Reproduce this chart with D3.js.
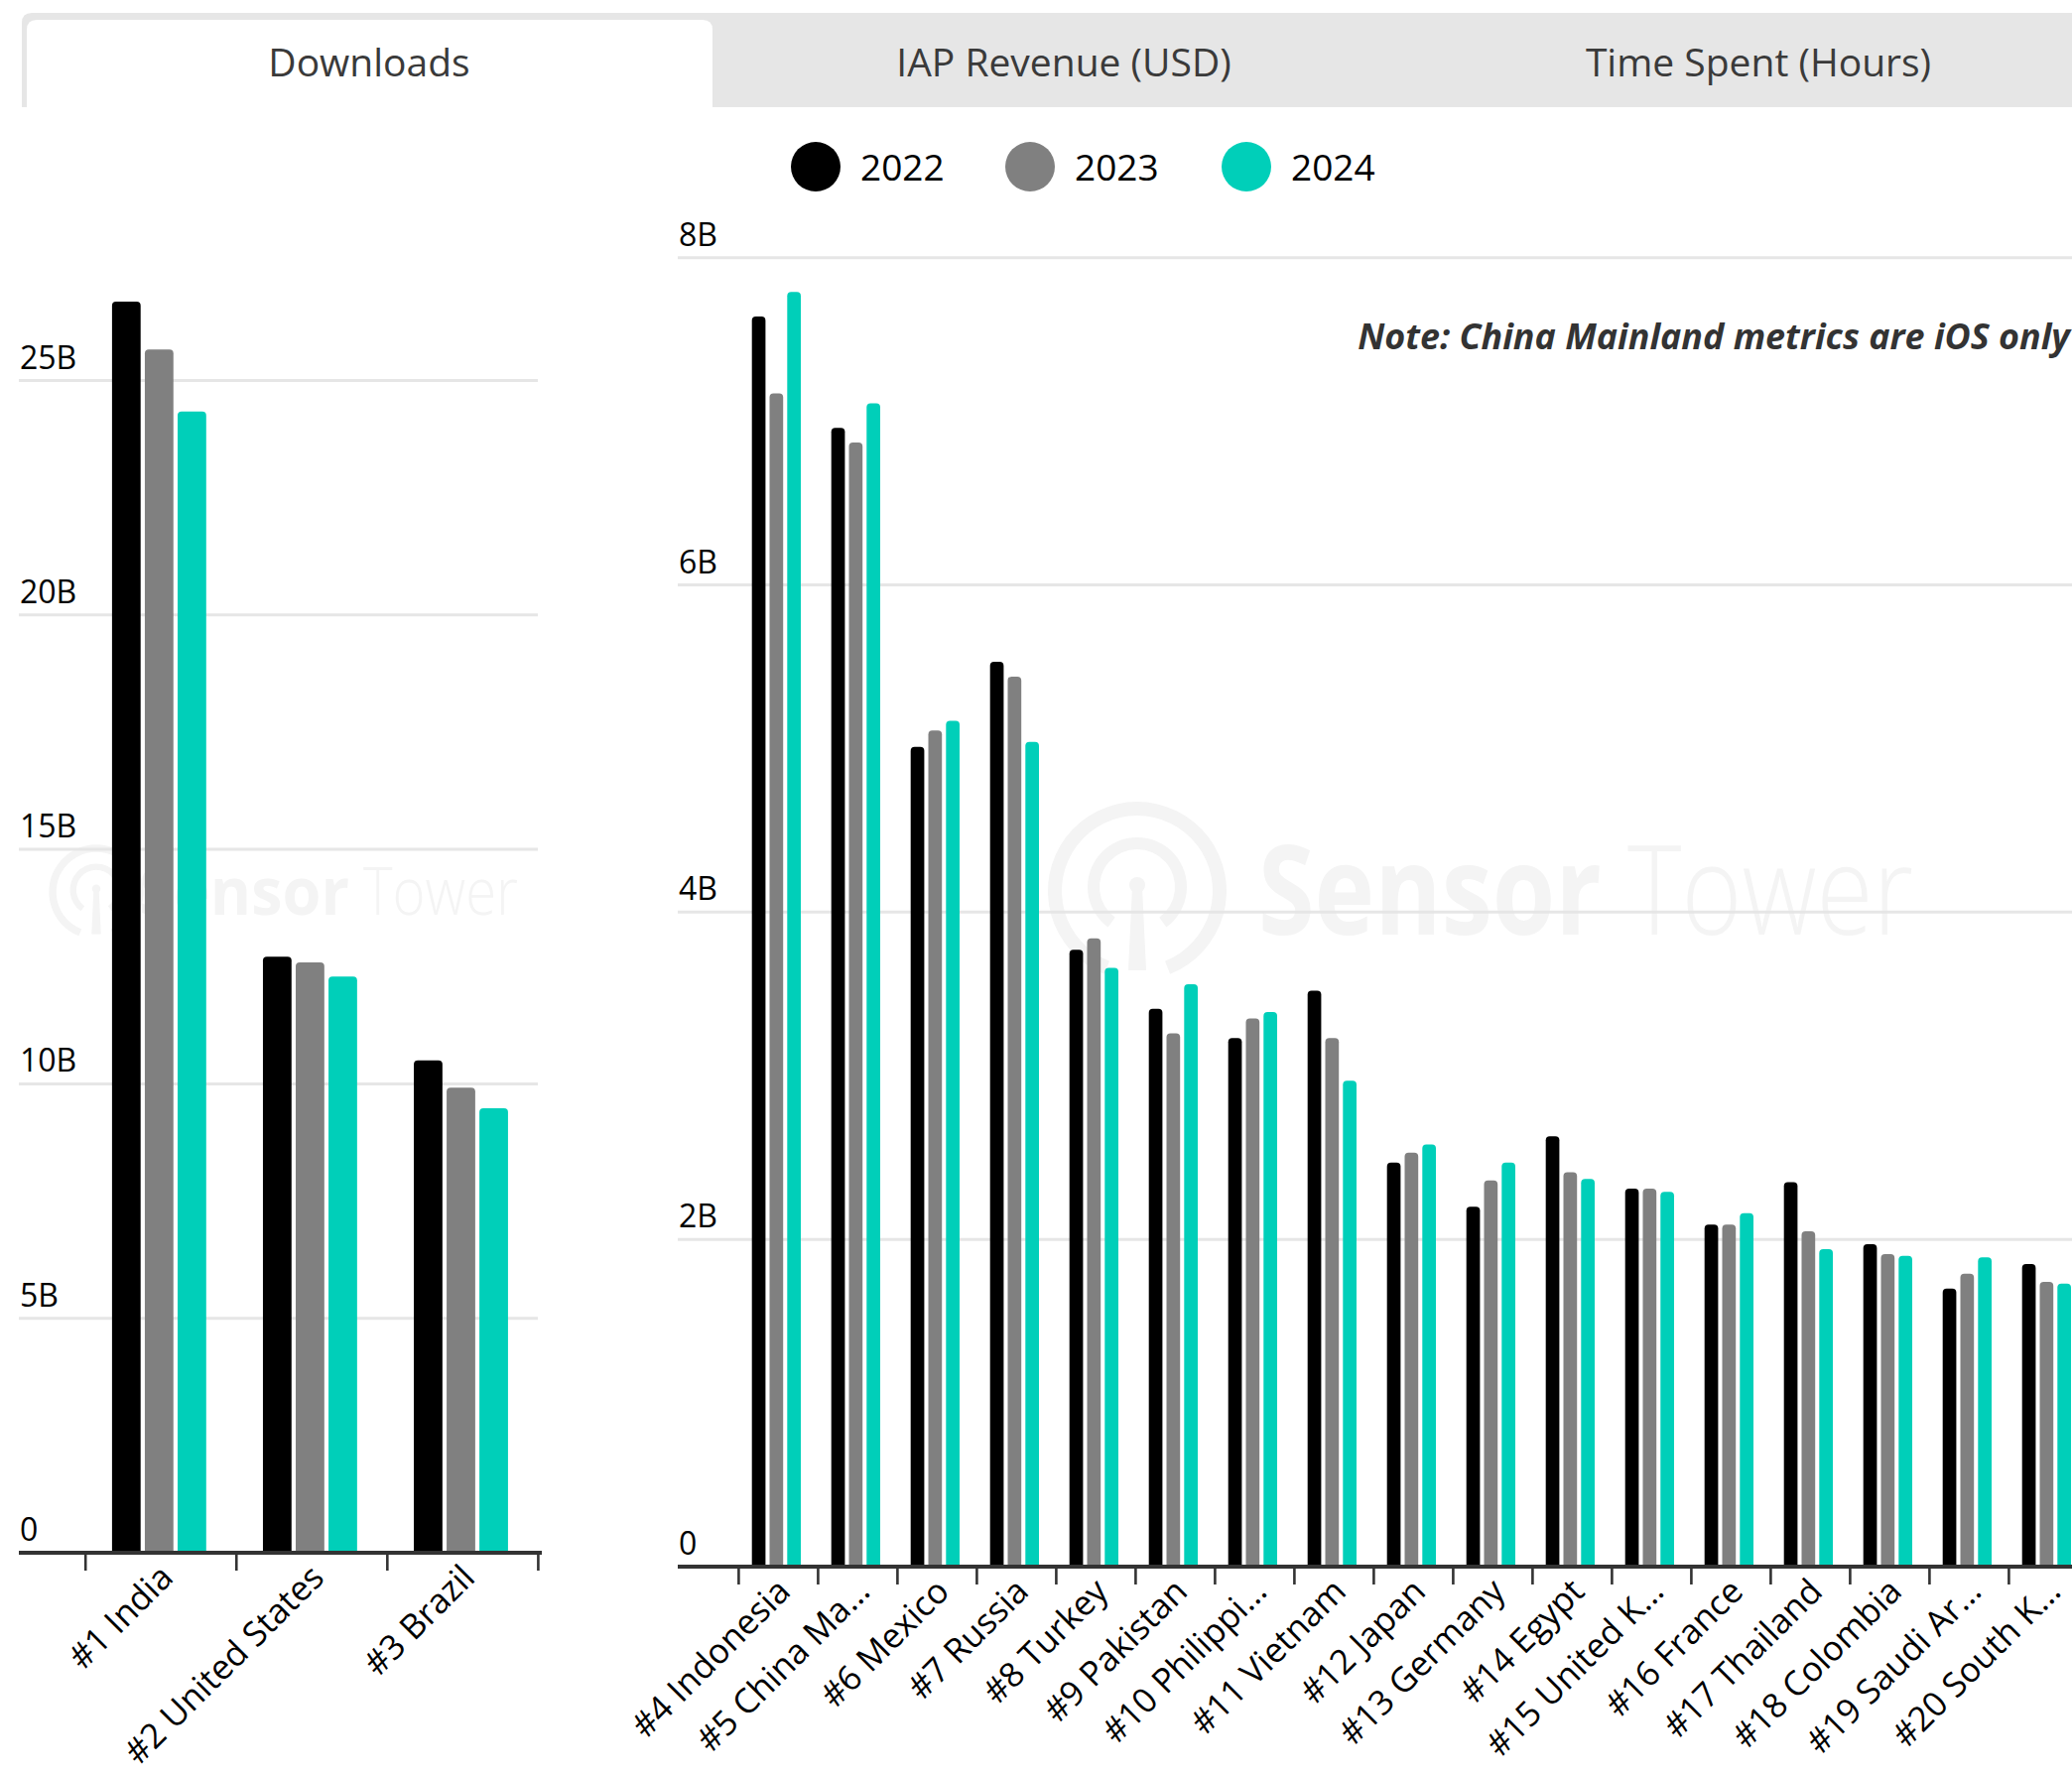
<!DOCTYPE html>
<html>
<head>
<meta charset="utf-8">
<script src="https://cdn.jsdelivr.net/npm/d3@7"></script>
<style>
  html, body { margin: 0; padding: 0; background: #ffffff; }
  svg { display: block; }
  text { font-family: "Open Sans", "Noto Sans", sans-serif; }
</style>
</head>
<body>
<svg id="chart" width="2088" height="1788"></svg>
<script>
// ---------------- DATA ----------------
const tabs = ["Downloads", "IAP Revenue (USD)", "Time Spent (Hours)"];
const years = ["2022", "2023", "2024"];
const seriesColors = ["#000000", "#808080", "#00cfb9"];

const topCategories = ["#1 India", "#2 United States", "#3 Brazil"];
const top2022 = [26.68, 12.71, 10.50];
const top2023 = [25.66, 12.59, 9.92];
const top2024 = [24.34, 12.29, 9.48];
const topTicks = [0, 5, 10, 15, 20, 25];

const restCategories = ["#4 Indonesia", "#5 China Ma…", "#6 Mexico", "#7 Russia", "#8 Turkey",
  "#9 Pakistan", "#10 Philippi…", "#11 Vietnam", "#12 Japan", "#13 Germany", "#14 Egypt",
  "#15 United K…", "#16 France", "#17 Thailand", "#18 Colombia", "#19 Saudi Ar…", "#20 South K…"];
const rest2022 = [7.64, 6.96, 5.01, 5.53, 3.77, 3.41, 3.23, 3.52, 2.47, 2.20, 2.63, 2.31, 2.09, 2.35, 1.97, 1.70, 1.85];
const rest2023 = [7.17, 6.87, 5.11, 5.44, 3.84, 3.26, 3.35, 3.23, 2.53, 2.36, 2.41, 2.31, 2.09, 2.05, 1.91, 1.79, 1.74];
const rest2024 = [7.79, 7.11, 5.17, 5.04, 3.66, 3.56, 3.39, 2.97, 2.58, 2.47, 2.37, 2.29, 2.16, 1.94, 1.90, 1.89, 1.73];
const restTicks = [0, 2, 4, 6, 8];

const noteText = "Note: China Mainland metrics are iOS only";
const watermarkWords = ["Sensor", "Tower"];

// ---------------- DRAW ----------------
const svg = d3.select("#chart");

// Tabs
svg.append("path")
  .attr("d", "M22,108 V23 Q22,13 32,13 H2140 V108 Z")
  .attr("fill", "#e6e6e6");
svg.append("path")
  .attr("d", "M27,112 V30 Q27,20 37,20 H708 Q718,20 718,30 V112 Z")
  .attr("fill", "#ffffff");
const tabScale = d3.scaleBand().domain(tabs).range([22, 2122]);
svg.selectAll("text.tab").data(tabs).join("text")
  .attr("class", "tab")
  .attr("x", d => tabScale(d) + tabScale.bandwidth() / 2)
  .attr("y", 77)
  .attr("text-anchor", "middle")
  .attr("font-size", 39)
  .attr("fill", "#3a3a3a")
  .text(d => d);

// Watermarks
function fitWord(g, word, weight, size, x, y, w, col) {
  const t = g.append("text").attr("x", 0).attr("y", 0)
    .attr("font-size", size).attr("font-weight", weight).attr("fill", col).text(word);
  const len = t.node().getComputedTextLength();
  t.attr("transform", `translate(${x},${y}) scale(${w / len},1)`);
}
function watermark(g, cx, cy, s, x1, w1, x2, w2, baseY) {
  const col = "#f4f4f4";
  const arcOuter = d3.arc().innerRadius(76 * s).outerRadius(90 * s)
    .startAngle(Math.PI * 1.12).endAngle(Math.PI * 2.88);
  const arcInner = d3.arc().innerRadius(38 * s).outerRadius(50 * s)
    .startAngle(Math.PI * 1.2).endAngle(Math.PI * 2.8);
  g.append("path").attr("d", arcOuter()).attr("transform", `translate(${cx},${cy})`).attr("fill", col);
  g.append("path").attr("d", arcInner()).attr("transform", `translate(${cx},${cy - 4 * s})`).attr("fill", col);
  g.append("circle").attr("cx", cx).attr("cy", cy - 6 * s).attr("r", 8 * s).attr("fill", col);
  g.append("path").attr("d", `M${cx - 5 * s},${cy - 4 * s} L${cx + 5 * s},${cy - 4 * s} L${cx + 9 * s},${cy + 80 * s} L${cx - 9 * s},${cy + 80 * s} Z`).attr("fill", col);
  fitWord(g, watermarkWords[0], 700, 125 * s, x1, baseY, w1, col);
  fitWord(g, watermarkWords[1], 300, 125 * s, x2, baseY, w2, col);
}
const wm = svg.append("g");
watermark(wm, 1146, 898, 1, 1268, 346, 1640, 288, 942);
watermark(wm, 97, 899, 0.53, 140, 212, 366, 156, 922);

// Legend
const legendX = [822, 1038, 1256];
const lg = svg.append("g");
years.forEach((y, i) => {
  lg.append("circle").attr("cx", legendX[i]).attr("cy", 168).attr("r", 25).attr("fill", seriesColors[i]);
  lg.append("text").attr("x", legendX[i] + 45).attr("y", 182).attr("font-size", 37).attr("fill", "#000").text(y);
});

// Note
const note = svg.append("text")
  .attr("x", 2086).attr("y", 352)
  .attr("text-anchor", "end")
  .attr("font-size", 34)
  .attr("font-weight", 700)
  .attr("font-style", "italic")
  .attr("fill", "#333333")
  .text(noteText);
{
  const len = note.node().getComputedTextLength();
  note.attr("font-size", 34 * 718 / len);
}

function barPath(x, y, w, h, r) {
  r = Math.min(r, w / 2, h);
  return `M${x},${y + h}V${y + r}Q${x},${y} ${x + r},${y}H${x + w - r}Q${x + w},${y} ${x + w},${y + r}V${y + h}Z`;
}

function panel(opts) {
  const g = svg.append("g");
  const x = d3.scaleBand().domain(opts.categories).range(opts.xRange);
  const xs = d3.scaleBand().domain(years).range(opts.innerRange).paddingInner(opts.innerPad);
  const y = d3.scaleLinear().domain([0, opts.yMax]).range(opts.yRange);

  // gridlines
  g.selectAll("line.grid").data(opts.ticks.filter(t => t > 0)).join("line")
    .attr("x1", opts.gridX[0]).attr("x2", opts.gridX[1])
    .attr("y1", d => y(d)).attr("y2", d => y(d))
    .attr("stroke", "#e6e6e6").attr("stroke-width", 3);

  // y labels
  g.selectAll("text.ylab").data(opts.ticks).join("text")
    .attr("x", opts.gridX[0] + 1)
    .attr("y", d => y(d) - 12)
    .attr("font-size", 32)
    .attr("fill", "#000")
    .text(d => d === 0 ? "0" : d + "B");

  // bars
  const seriesVals = opts.series;
  opts.categories.forEach((c, ci) => {
    years.forEach((yr, si) => {
      const v = seriesVals[si][ci];
      const bx = x(c) + xs(yr);
      const by = y(v);
      g.append("path")
        .attr("d", barPath(bx, by, xs.bandwidth(), y(0) - by, 4))
        .attr("fill", seriesColors[si]);
    });
  });

  // axis line
  g.append("line")
    .attr("x1", opts.axisX[0]).attr("x2", opts.axisX[1])
    .attr("y1", y(0)).attr("y2", y(0))
    .attr("stroke", "#333333").attr("stroke-width", 4);

  // ticks at band boundaries
  const bounds = opts.categories.map(c => x(c)).concat([opts.xRange[1]]);
  g.selectAll("line.tick").data(bounds).join("line")
    .attr("x1", d => d).attr("x2", d => d)
    .attr("y1", y(0)).attr("y2", y(0) + 18)
    .attr("stroke", "#333333").attr("stroke-width", 2.6);

  // x labels
  g.selectAll("text.xlab").data(opts.categories).join("text")
    .attr("text-anchor", "end")
    .attr("font-size", 34.5)
    .attr("fill", "#000")
    .attr("transform", d => `translate(${x(d) + x.bandwidth() / 2 + 14},${y(0) + 27}) rotate(-45)`)
    .text(d => d);
}

panel({
  categories: topCategories,
  series: [top2022, top2023, top2024],
  xRange: [86.2, 542.4],
  innerRange: [26.7, 121.6],
  innerPad: 0.128,
  yMax: 25,
  yRange: [1565, 383.5],
  ticks: topTicks,
  gridX: [19, 542],
  axisX: [19, 546]
});

panel({
  categories: restCategories,
  series: [rest2022, rest2023, rest2024],
  xRange: [744.4, 744.4 + 80 * 17],
  innerRange: [13.3, 62.6],
  innerPad: 0.23,
  yMax: 8,
  yRange: [1579, 259.7],
  ticks: restTicks,
  gridX: [683, 2110],
  axisX: [683, 2110]
});
</script>
</body>
</html>
